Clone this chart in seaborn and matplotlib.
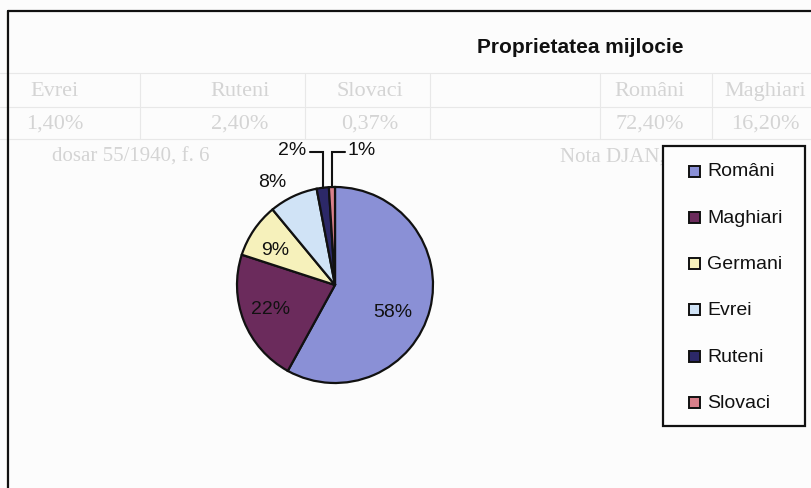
import numpy as np
import pandas as pd
import matplotlib
matplotlib.use("Agg")
import matplotlib.pyplot as plt
from matplotlib.patches import Rectangle
import seaborn as sns

W, H = 812, 489   # output size in pixels (dpi 100)

TITLE  = "Proprietatea mijlocie"
GROUPS = ["Români", "Maghiari", "Germani", "Evrei", "Ruteni", "Slovaci"]
SHARES = [58, 22, 9, 8, 2, 1]
PALETTE = ["#8a90d6", "#6b2b5c", "#f6f1bb", "#d0e3f6", "#2c2868", "#d9808b"]

# faint tables showing through the scanned page
BLEED_HEAD = ["Evrei", "Ruteni", "Slovaci", "Români", "Maghiari"]
BLEED_VALS = ["1,40%", "2,40%", "0,37%", "72,40%", "16,20%"]
BLEED_NOTE_L = "dosar 55/1940, f. 6"
BLEED_NOTE_R = "Nota DJAN, Fond"

# layout (image pixel coords, y measured from top)
CX, CY, R   = 335, 286, 98
LABEL_R     = [0.65, 0.70, 0.71, 1.24]     # label radius (fraction of R)
LABEL_TURN  = [-10, -2, 4, 6]               # label angle nudge, degrees
LEADER_Y    = 153
LEG_BOX     = (663, 147, 805, 427)
LEG_ROW0    = 172
LEG_STEP    = 46.3
BLEED_X     = [55, 240, 370, 650, 765]
BLEED_SEP   = [8, 140, 305, 430, 600, 712]
GHOST       = "#d4d4d4"


def Y(y):
    return H - y


sns.set_theme(style="white")
plt.rcParams["font.family"] = ["Liberation Sans", "DejaVu Sans"]

df = pd.DataFrame({"group": GROUPS, "share": SHARES})

fig = plt.figure(figsize=(W / 100, H / 100), dpi=100)
fig.patch.set_facecolor("#fcfcfc")
ax = fig.add_axes([0, 0, 1, 1])
ax.set_facecolor("#fcfcfc")

# ghost text from the back of the page
for yy in (74, 108, 140):
    ax.plot([0, W], [Y(yy), Y(yy)], color="#e8e8e8", lw=0.8, zorder=0)
for xs in BLEED_SEP:
    ax.plot([xs, xs], [Y(74), Y(140)], color="#e8e8e8", lw=0.8, zorder=0)
for x, h, v in zip(BLEED_X, BLEED_HEAD, BLEED_VALS):
    ax.text(x, Y(92), h, ha="center", va="center", fontsize=16,
            family="Liberation Serif", color=GHOST, zorder=0)
    ax.text(x, Y(124), v, ha="center", va="center", fontsize=16,
            family="Liberation Serif", color=GHOST, zorder=0)
ax.text(210, Y(157), BLEED_NOTE_L, ha="right", va="center", fontsize=15,
        family="Liberation Serif", color=GHOST, zorder=0)
ax.text(560, Y(157), BLEED_NOTE_R, ha="left", va="center", fontsize=15,
        family="Liberation Serif", color=GHOST, zorder=0)

# chart area frame (cut by the scan on right and bottom)
ax.plot([7, 7], [Y(12), -5], color="#c9b64c", lw=0.8, zorder=1)
ax.plot([8.5, 8.5], [Y(12), -5], color="#111111", lw=1.6, zorder=1)
ax.plot([8, W + 5], [Y(12), Y(12)], color="#111111", lw=1.6, zorder=1)

ax.text(580, Y(48), TITLE, ha="center", va="center", fontsize=15,
        fontweight="bold", color="#111111")

wedges, _ = ax.pie(df["share"], colors=PALETTE, startangle=90, counterclock=False,
                   center=(CX, Y(CY)), radius=R, frame=True,
                   wedgeprops=dict(edgecolor="#111111", linewidth=1.6))

for i, (w, val) in enumerate(zip(wedges, df["share"])):
    mid = np.deg2rad((w.theta1 + w.theta2) / 2)
    ex, ey = CX + R * np.cos(mid), Y(CY) + R * np.sin(mid)
    if i < len(LABEL_R):
        k, a = LABEL_R[i], mid + np.deg2rad(LABEL_TURN[i])
        ax.text(CX + k * R * np.cos(a), Y(CY) + k * R * np.sin(a), f"{val}%",
                ha="center", va="center", fontsize=14, color="#111111")
    else:
        side = -1 if i == 4 else 1
        ax.plot([ex, ex, ex + side * 13], [ey, Y(LEADER_Y), Y(LEADER_Y)],
                color="#111111", lw=1.5, solid_joinstyle="miter")
        ax.text(ex + side * 16, Y(LEADER_Y) + 2, f"{val}%",
                ha="right" if side < 0 else "left", va="center",
                fontsize=14, color="#111111")

# legend box
x0, y0, x1, y1 = LEG_BOX
ax.add_patch(Rectangle((x0, Y(y1)), x1 - x0, y1 - y0, facecolor="#fdfdfd",
                       edgecolor="#111111", lw=1.6, zorder=3))
for i, (name, col) in enumerate(zip(df["group"], PALETTE)):
    yy = LEG_ROW0 + i * LEG_STEP
    ax.add_patch(Rectangle((689, Y(yy) - 5.5), 11, 11, facecolor=col,
                           edgecolor="#111111", lw=1.4, zorder=4))
    ax.text(707, Y(yy), name, ha="left", va="center", fontsize=14,
            color="#111111", zorder=4)

ax.set_xlim(0, W)
ax.set_ylim(0, H)
ax.set_aspect("auto")
ax.set_axis_off()

fig.savefig("out.png", dpi=100, facecolor=fig.get_facecolor())
